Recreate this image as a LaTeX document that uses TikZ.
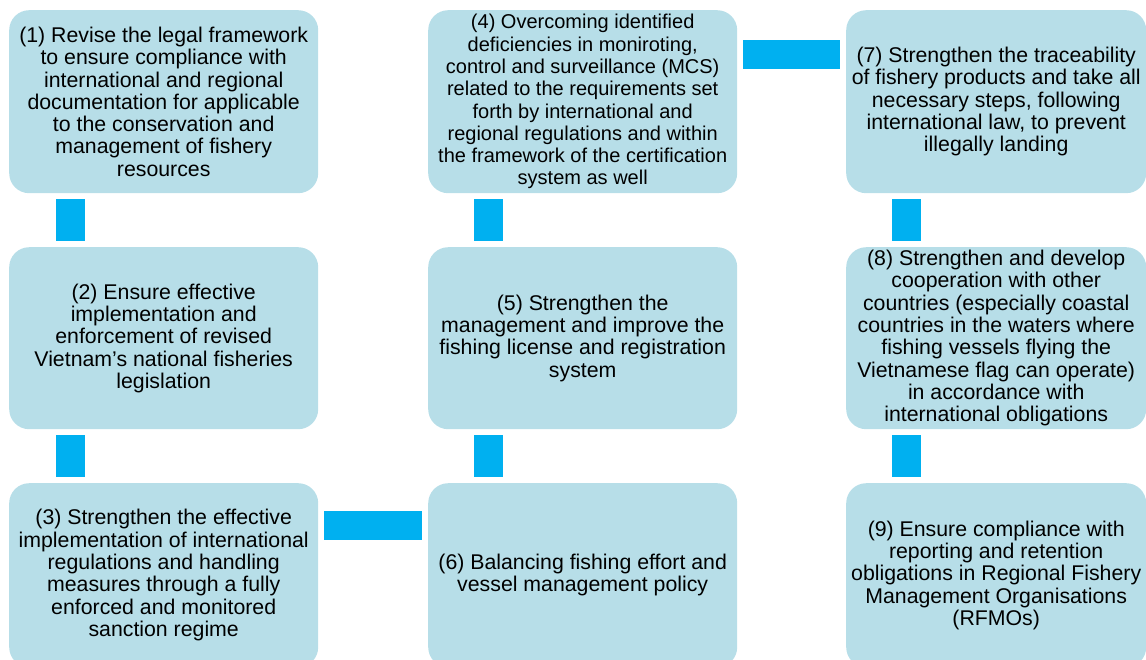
\documentclass[tikz,border=0pt]{standalone}
\usepackage{fontspec}
\setmainfont{Liberation Sans}
\definecolor{boxblue}{RGB}{183,222,232}
\definecolor{linkblue}{RGB}{0,176,240}

\begin{document}
\begin{tikzpicture}[x=1pt,y=-1pt]
        \tikzstyle{box}=[rectangle, rounded corners=20pt, fill=boxblue, anchor=north west,
                         inner sep=0pt, align=center, font=\fontsize{21.3}{22.3}\selectfont]
        \tikzstyle{link}=[draw=linkblue, line width=29pt, line cap=butt,
                          shorten <=6pt, shorten >=6pt]
        \useasboundingbox (0,0) rectangle (1146,659);
        % first column
        \node[box, minimum width=309pt, minimum height=183pt] (b1) at (9,10)
          {(1) Revise the legal framework\\to ensure compliance with\\international and regional\\documentation for applicable\\to the conservation and\\management of fishery\\resources};
        \node[box, minimum width=309pt, minimum height=182pt] (b2) at (9,247)
          {(2) Ensure effective\\implementation and\\enforcement of revised\\Vietnam’s national fisheries\\legislation};
        \node[box, minimum width=309pt, minimum height=184pt] (b3) at (9,483)
          {(3) Strengthen the effective\\implementation of international\\regulations and handling\\measures through a fully\\enforced and monitored\\sanction regime};
        % second column
        \node[box, minimum width=309pt, minimum height=183pt,
              font=\fontsize{20}{22.3}\selectfont] (b4) at (428,10)
          {(4) Overcoming identified\\deficiencies in moniroting,\\control and surveillance (MCS)\\related to the requirements set\\forth by international and\\regional regulations and within\\the framework of the certification\\system as well};
        \node[box, minimum width=309pt, minimum height=182pt] (b5) at (428,247)
          {(5) Strengthen the\\management and improve the\\fishing license and registration\\system};
        \node[box, minimum width=309pt, minimum height=184pt] (b6) at (428,483)
          {(6) Balancing fishing effort and\\vessel management policy};
        % third column
        \node[box, minimum width=300pt, minimum height=183pt] (b7) at (846,10)
          {(7) Strengthen the traceability\\of fishery products and take all\\necessary steps, following\\international law, to prevent\\illegally landing};
        \node[box, minimum width=300pt, minimum height=182pt] (b8) at (846,247)
          {(8) Strengthen and develop\\cooperation with other\\countries (especially coastal\\countries in the waters where\\fishing vessels flying the\\Vietnamese flag can operate)\\in accordance with\\international obligations};
        \node[box, minimum width=300pt, minimum height=184pt] (b9) at (846,483)
          {(9) Ensure compliance with\\reporting and retention\\obligations in Regional Fishery\\Management Organisations\\(RFMOs)};
        % connectors
        \draw[link] ([xshift=61pt]b1.south west) -- ([xshift=61pt]b2.north west);
        \draw[link] ([xshift=61pt]b2.south west) -- ([xshift=61pt]b3.north west);
        \draw[link] ([xshift=60pt]b4.south west) -- ([xshift=60pt]b5.north west);
        \draw[link] ([xshift=60pt]b5.south west) -- ([xshift=60pt]b6.north west);
        \draw[link] ([xshift=60pt]b7.south west) -- ([xshift=60pt]b8.north west);
        \draw[link] ([xshift=60pt]b8.south west) -- ([xshift=60pt]b9.north west);
        \draw[link] ([yshift=-44.5pt]b4.north east) -- ([yshift=-44.5pt]b7.north west);
        \draw[link] ([yshift=-42.5pt]b3.north east) -- ([yshift=-42.5pt]b6.north west);
\end{tikzpicture}
\end{document}
